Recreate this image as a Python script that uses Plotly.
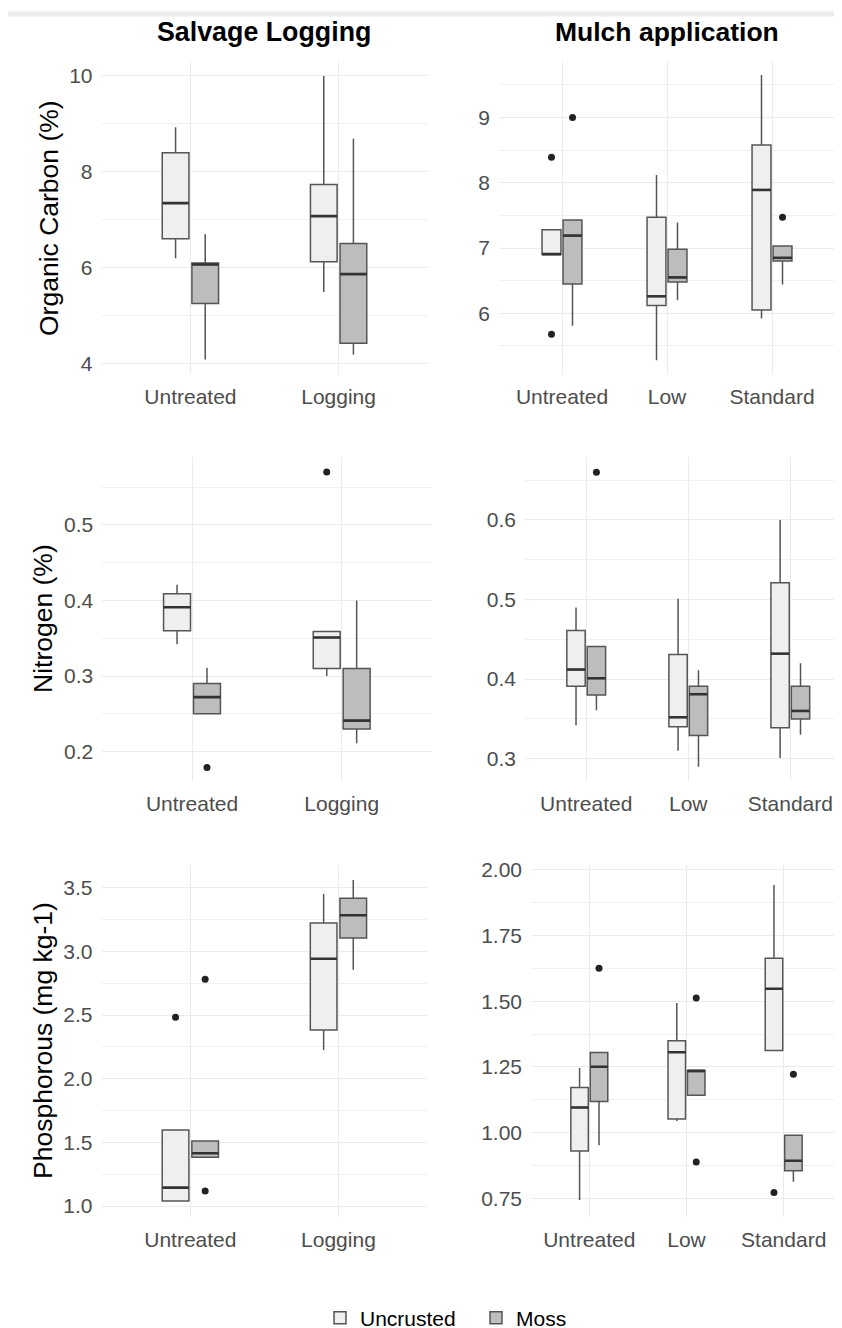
import plotly.graph_objects as go

# ---------------- data ----------------
sl_categories = ["Untreated", "Logging"]
ma_categories = ["Untreated", "Low", "Standard"]
groups = ["Uncrusted", "Moss"]

# box stats per category: [lower whisker, q1, median, q3, upper whisker]
oc_sl_uncrusted = [[6.20, 6.61, 7.35, 8.40, 8.93], [5.50, 6.13, 7.08, 7.74, 10.00]]
oc_sl_moss = [[4.09, 5.26, 6.07, 6.10, 6.70], [4.19, 4.43, 5.87, 6.51, 8.69]]
oc_sl_uncrusted_out = [[], []]
oc_sl_moss_out = [[], []]

oc_ma_uncrusted = [[6.90, 6.90, 6.905, 7.28, 7.28], [5.28, 6.12, 6.26, 7.47, 8.12], [5.92, 6.05, 7.89, 8.58, 9.65]]
oc_ma_moss = [[5.81, 6.45, 7.19, 7.43, 7.43], [6.20, 6.48, 6.55, 6.98, 7.39], [6.44, 6.80, 6.85, 7.03, 7.03]]
oc_ma_uncrusted_out = [[8.39, 5.68], [], []]
oc_ma_moss_out = [[9.00], [], [7.47]]

n_sl_uncrusted = [[0.342, 0.360, 0.391, 0.409, 0.421], [0.300, 0.310, 0.351, 0.359, 0.359]]
n_sl_moss = [[0.250, 0.250, 0.272, 0.290, 0.311], [0.211, 0.230, 0.241, 0.310, 0.400]]
n_sl_uncrusted_out = [[], [0.570]]
n_sl_moss_out = [[0.179], []]

n_ma_uncrusted = [[0.342, 0.391, 0.412, 0.461, 0.490], [0.310, 0.340, 0.352, 0.431, 0.501], [0.301, 0.339, 0.432, 0.521, 0.600]]
n_ma_moss = [[0.361, 0.380, 0.401, 0.441, 0.441], [0.290, 0.329, 0.381, 0.391, 0.411], [0.330, 0.350, 0.360, 0.391, 0.420]]
n_ma_uncrusted_out = [[], [], []]
n_ma_moss_out = [[0.660], [], []]

p_sl_uncrusted = [[1.039, 1.039, 1.144, 1.597, 1.597], [2.225, 2.382, 2.942, 3.223, 3.450]]
p_sl_moss = [[1.383, 1.383, 1.414, 1.510, 1.510], [2.856, 3.105, 3.283, 3.416, 3.560]]
p_sl_uncrusted_out = [[2.482], []]
p_sl_moss_out = [[2.780, 1.118], []]

p_ma_uncrusted = [[0.744, 0.930, 1.096, 1.172, 1.246], [1.044, 1.052, 1.306, 1.350, 1.494], [1.313, 1.313, 1.548, 1.664, 1.943]]
p_ma_moss = [[0.952, 1.119, 1.251, 1.305, 1.305], [1.142, 1.142, 1.235, 1.237, 1.237], [0.813, 0.855, 0.893, 0.990, 0.990]]
p_ma_uncrusted_out = [[], [], [0.772]]
p_ma_moss_out = [[1.626], [1.513, 0.888], [1.222]]

col_titles = ["Salvage Logging", "Mulch application"]
row_titles = ["Organic Carbon (%)", "Nitrogen (%)", "Phosphorous (mg kg-1)"]

# ---------------- styling / layout ----------------
W, H = 842, 1328
OFF = 8  # page body margin shifts the figure by this many pixels
FONT = "Liberation Sans, Arial, sans-serif"
fills = {"Uncrusted": "#EFEFEF", "Moss": "#BDBDBD"}
offsets = {"Uncrusted": -0.1, "Moss": 0.1}
BOXW = 0.18
EDGE = "#555555"
MED = "#333333"
GRID = "#EBEBEB"


def fx(px):
    return (px - OFF) / W


def fy(py):
    return 1 - (py - OFF) / H


panels = [
    dict(cats=sl_categories, data={"Uncrusted": (oc_sl_uncrusted, oc_sl_uncrusted_out), "Moss": (oc_sl_moss, oc_sl_moss_out)},
         px=(101.5, 427.5), py=(62, 374), xr=[-0.6, 1.6], yr=[3.79, 10.29], dtick=2, minor=1, fmt=".0f"),
    dict(cats=ma_categories, data={"Uncrusted": (oc_ma_uncrusted, oc_ma_uncrusted_out), "Moss": (oc_ma_moss, oc_ma_moss_out)},
         px=(499, 835), py=(62, 374), xr=[-0.6, 2.6], yr=[5.07, 9.85], dtick=1, minor=0.5, fmt=".0f"),
    dict(cats=sl_categories, data={"Uncrusted": (n_sl_uncrusted, n_sl_uncrusted_out), "Moss": (n_sl_moss, n_sl_moss_out)},
         px=(102.2, 431.5), py=(457, 781), xr=[-0.6, 1.6], yr=[0.161, 0.590], dtick=0.1, minor=0.05, fmt=".1f"),
    dict(cats=ma_categories, data={"Uncrusted": (n_ma_uncrusted, n_ma_uncrusted_out), "Moss": (n_ma_moss, n_ma_moss_out)},
         px=(525, 850), py=(457, 781), xr=[-0.6, 2.585], yr=[0.272, 0.679], dtick=0.1, minor=0.05, fmt=".1f"),
    dict(cats=sl_categories, data={"Uncrusted": (p_sl_uncrusted, p_sl_uncrusted_out), "Moss": (p_sl_moss, p_sl_moss_out)},
         px=(101.5, 427.3), py=(865, 1216.7), xr=[-0.6, 1.6], yr=[0.916, 3.678], dtick=0.5, minor=0.25, fmt=".1f"),
    dict(cats=ma_categories, data={"Uncrusted": (p_ma_uncrusted, p_ma_uncrusted_out), "Moss": (p_ma_moss, p_ma_moss_out)},
         px=(531, 842), py=(865, 1216.7), xr=[-0.6, 2.6], yr=[0.680, 2.019], dtick=0.25, minor=0.125, fmt=".2f"),
]

fig = go.Figure()
layout = {}
for i, p in enumerate(panels, start=1):
    sfx = "" if i == 1 else str(i)
    xa, ya = "x" + sfx, "y" + sfx
    for g in groups:
        stats, outs = p["data"][g]
        xs = [k + offsets[g] for k in range(len(p["cats"]))]
        fig.add_trace(go.Box(
            x=xs,
            lowerfence=[s[0] for s in stats], q1=[s[1] for s in stats], median=[s[2] for s in stats],
            q3=[s[3] for s in stats], upperfence=[s[4] for s in stats],
            width=BOXW, whiskerwidth=0, boxpoints=False,
            fillcolor=fills[g], line=dict(color=EDGE, width=1.5),
            name=g, legendgroup=g, showlegend=(i == 1),
            xaxis=xa, yaxis=ya))
        # thicker median segments
        mx, my = [], []
        for x, s in zip(xs, stats):
            mx += [x - BOXW / 2, x + BOXW / 2, None]
            my += [s[2], s[2], None]
        fig.add_trace(go.Scatter(x=mx, y=my, mode="lines", line=dict(color=MED, width=2.6),
                                 showlegend=False, hoverinfo="skip", xaxis=xa, yaxis=ya))
        # outliers
        ox, oy = [], []
        for x, o in zip(xs, outs):
            ox += [x] * len(o)
            oy += o
        if ox:
            fig.add_trace(go.Scatter(x=ox, y=oy, mode="markers", marker=dict(color="#222222", size=7),
                                     showlegend=False, xaxis=xa, yaxis=ya))
    layout["xaxis" + sfx] = dict(
        domain=[fx(p["px"][0]), min(1.0, fx(p["px"][1]))], anchor=ya, range=p["xr"],
        tickmode="array", tickvals=list(range(len(p["cats"]))), ticktext=p["cats"],
        showgrid=True, gridcolor=GRID, gridwidth=1.3, zeroline=False, showline=False, ticks="",
        tickfont=dict(family=FONT, size=21, color="#4D4D4D"), ticklabelstandoff=8, fixedrange=True)
    layout["yaxis" + sfx] = dict(
        domain=[fy(p["py"][1]), fy(p["py"][0])], anchor=xa, range=p["yr"],
        dtick=p["dtick"], tick0=0, tickformat=p["fmt"],
        minor=dict(dtick=p["minor"], tick0=0, showgrid=True, gridcolor="#F0F0F0", gridwidth=1),
        showgrid=True, gridcolor=GRID, gridwidth=1.3, zeroline=False, showline=False, ticks="",
        tickfont=dict(family=FONT, size=21, color="#4D4D4D"), ticklabelstandoff=8, fixedrange=True)

# panel 4 domain is clipped at the page edge; keep its scale by shrinking the range accordingly
p4 = panels[3]
d0, d1 = layout["xaxis4"]["domain"]
full = (p4["px"][1] - p4["px"][0])
vis = d1 * W - d0 * W
layout["xaxis4"]["range"] = [p4["xr"][0], p4["xr"][0] + (p4["xr"][1] - p4["xr"][0]) * vis / full]

annotations = []
for t, xc, sz in zip(col_titles, [263.5, 667], [26.8, 26.5]):
    annotations.append(dict(text="<b>" + t + "</b>", x=fx(xc), y=fy(32), xref="paper", yref="paper",
                            showarrow=False, xanchor="center", yanchor="middle",
                            font=dict(family=FONT, size=sz, color="#000000")))
for t, (xc, yc) in zip(row_titles, [(49, 218), (43, 619), (43, 1041)]):
    annotations.append(dict(text=t, x=fx(xc), y=fy(yc), xref="paper", yref="paper", textangle=-90,
                            showarrow=False, xanchor="center", yanchor="middle",
                            font=dict(family=FONT, size=26.5, color="#000000")))

fig.update_layout(
    width=W, height=H, margin=dict(l=0, r=0, t=0, b=0, autoexpand=False),
    paper_bgcolor="white", plot_bgcolor="white",
    boxmode="overlay", font=dict(family=FONT),
    annotations=annotations,
    shapes=[dict(type="line", xref="paper", yref="paper", x0=0, x1=1, y0=fy(14), y1=fy(14),
                 line=dict(color="#ECECEC", width=5))],
    legend=dict(orientation="h", x=fx(320), xanchor="left", y=fy(1318), yanchor="middle",
                entrywidth=111, entrywidthmode="pixels",
                font=dict(family=FONT, size=21, color="#000000"), bgcolor="rgba(0,0,0,0)"),
    **layout)

fig.write_html("out.html")
